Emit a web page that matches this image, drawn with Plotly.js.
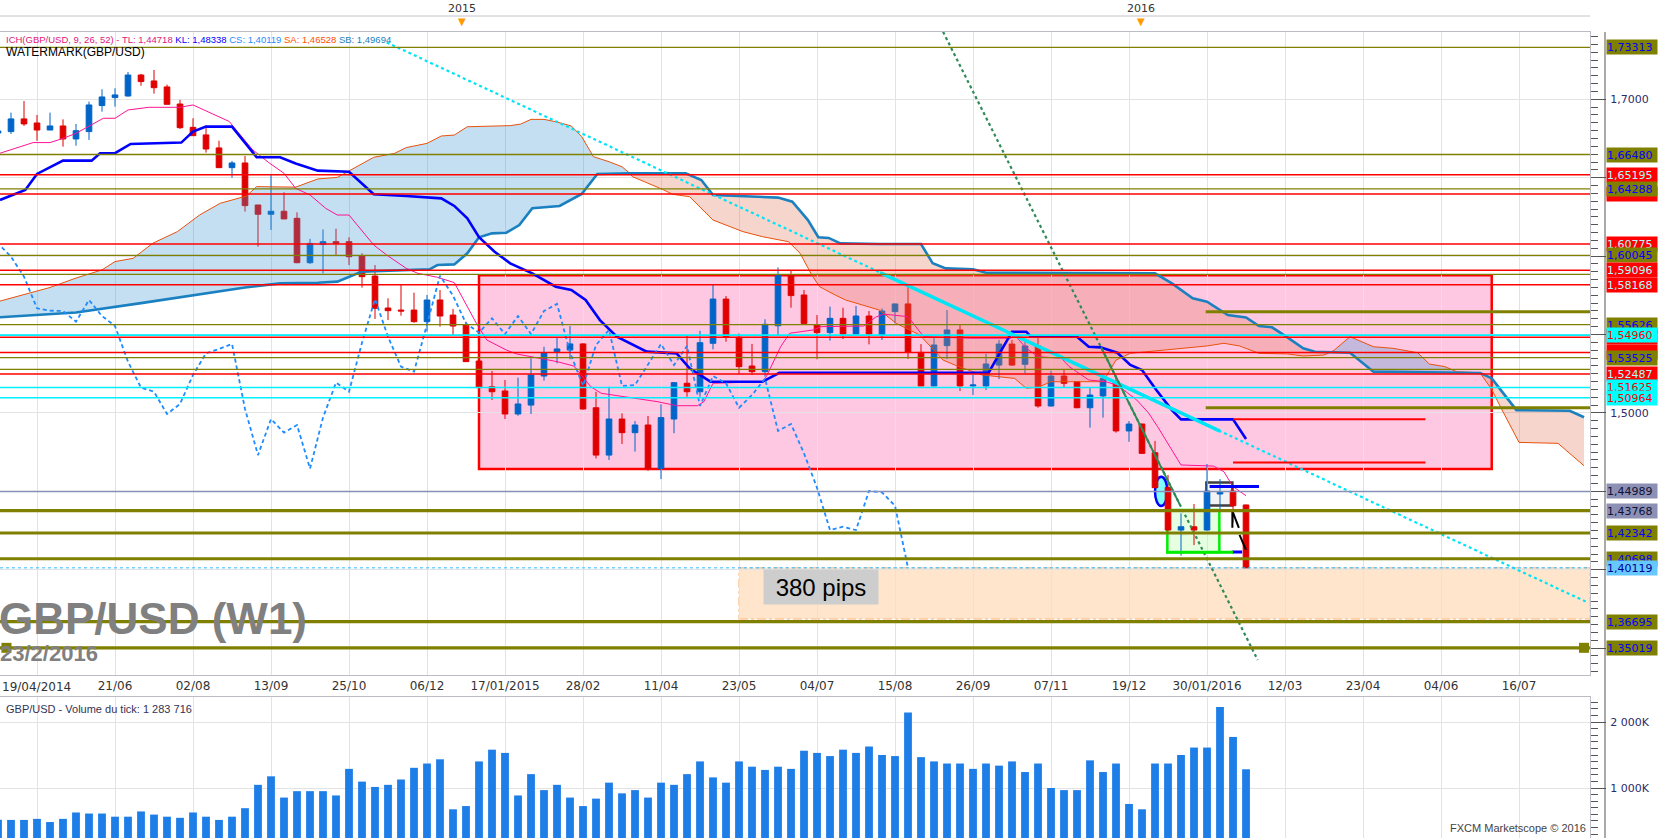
<!DOCTYPE html>
<html><head><meta charset="utf-8">
<script src="https://cdn.plot.ly/plotly-3.0.1.min.js"></script>
<style>html,body{margin:0;padding:0;background:#fff;}#chart{width:1663px;height:838px;}</style>
</head><body><div id="chart"></div>
<script>
// ---------- weekly candles (GBP/USD W1) ----------
const dates = ['2014-04-19','2014-04-26','2014-05-03','2014-05-10','2014-05-17','2014-05-24','2014-05-31','2014-06-07','2014-06-14','2014-06-21','2014-06-28','2014-07-05','2014-07-12','2014-07-19','2014-07-26','2014-08-02','2014-08-09','2014-08-16','2014-08-23','2014-08-30','2014-09-06','2014-09-13','2014-09-20','2014-09-27','2014-10-04','2014-10-11','2014-10-18','2014-10-25','2014-11-01','2014-11-08','2014-11-15','2014-11-22','2014-11-29','2014-12-06','2014-12-13','2014-12-20','2014-12-27','2015-01-03','2015-01-10','2015-01-17','2015-01-24','2015-01-31','2015-02-07','2015-02-14','2015-02-21','2015-02-28','2015-03-07','2015-03-14','2015-03-21','2015-03-28','2015-04-04','2015-04-11','2015-04-18','2015-04-25','2015-05-02','2015-05-09','2015-05-16','2015-05-23','2015-05-30','2015-06-06','2015-06-13','2015-06-20','2015-06-27','2015-07-04','2015-07-11','2015-07-18','2015-07-25','2015-08-01','2015-08-08','2015-08-15','2015-08-22','2015-08-29','2015-09-05','2015-09-12','2015-09-19','2015-09-26','2015-10-03','2015-10-10','2015-10-17','2015-10-24','2015-10-31','2015-11-07','2015-11-14','2015-11-21','2015-11-28','2015-12-05','2015-12-12','2015-12-19','2015-12-26','2016-01-02','2016-01-09','2016-01-16','2016-01-23','2016-01-30','2016-02-06','2016-02-13','2016-02-20'];
const opens = [1.6785,1.6794,1.6875,1.6849,1.6804,1.6830,1.6747,1.6794,1.6960,1.7011,1.7021,1.7155,1.7117,1.7079,1.6970,1.6821,1.6773,1.6690,1.6564,1.6594,1.6326,1.6267,1.6286,1.6241,1.5958,1.6075,1.6092,1.6092,1.6003,1.5873,1.5669,1.5656,1.5656,1.5582,1.5720,1.5624,1.5561,1.5331,1.5167,1.5140,1.4993,1.5050,1.5235,1.5391,1.5401,1.5440,1.5033,1.4731,1.4961,1.4874,1.4923,1.4645,1.4961,1.5189,1.5135,1.5444,1.5726,1.5482,1.5299,1.5263,1.5556,1.5880,1.5752,1.5561,1.5512,1.5603,1.5503,1.5618,1.5493,1.5646,1.5695,1.5386,1.5172,1.5429,1.5529,1.5172,1.5172,1.5305,1.5439,1.5310,1.5427,1.5044,1.5235,1.5199,1.5033,1.5108,1.5199,1.4885,1.4929,1.4746,1.4525,1.4253,1.4274,1.4253,1.4483,1.4502,1.4413];
const highs = [1.6800,1.6915,1.6989,1.6900,1.6915,1.6872,1.6843,1.6985,1.7064,1.7070,1.7174,1.7162,1.7187,1.7094,1.6996,1.6879,1.6832,1.6736,1.6607,1.6639,1.6326,1.6524,1.6407,1.6279,1.6110,1.6170,1.6175,1.6120,1.6018,1.5943,1.5731,1.5820,1.5767,1.5752,1.5784,1.5663,1.5582,1.5335,1.5267,1.5210,1.5225,1.5348,1.5422,1.5480,1.5554,1.5445,1.5135,1.5167,1.4997,1.4948,1.4980,1.5055,1.5195,1.5497,1.5524,1.5816,1.5746,1.5507,1.5440,1.5597,1.5928,1.5907,1.5784,1.5624,1.5678,1.5671,1.5682,1.5650,1.5667,1.5697,1.5816,1.5439,1.5480,1.5656,1.5561,1.5242,1.5376,1.5465,1.5465,1.5465,1.5480,1.5269,1.5274,1.5200,1.5163,1.5222,1.5225,1.4948,1.4931,1.4821,1.4604,1.4360,1.4419,1.4674,1.4578,1.4530,1.4415];
const lows = [1.6770,1.6779,1.6830,1.6736,1.6804,1.6698,1.6704,1.6741,1.6921,1.6953,1.7017,1.7087,1.7036,1.6968,1.6811,1.6768,1.6660,1.6564,1.6500,1.6284,1.6060,1.6167,1.6237,1.5955,1.5950,1.5890,1.6007,1.5943,1.5799,1.5599,1.5592,1.5620,1.5575,1.5518,1.5550,1.5493,1.5327,1.5155,1.5082,1.4961,1.4982,1.4993,1.5206,1.5316,1.5342,1.5020,1.4710,1.4700,1.4802,1.4753,1.4630,1.4578,1.4870,1.5103,1.5103,1.5405,1.5454,1.5246,1.5242,1.5231,1.5493,1.5671,1.5571,1.5342,1.5461,1.5471,1.5503,1.5437,1.5465,1.5571,1.5344,1.5172,1.5170,1.5344,1.5140,1.5114,1.5146,1.5216,1.5300,1.5252,1.5033,1.5040,1.5161,1.5030,1.4906,1.4970,1.4874,1.4816,1.4740,1.4520,1.4250,1.4089,1.4157,1.4250,1.4387,1.4300,1.4012];
const closes = [1.6798,1.6875,1.6843,1.6804,1.6830,1.6747,1.6800,1.6964,1.7015,1.7028,1.7155,1.7113,1.7074,1.6968,1.6819,1.6768,1.6683,1.6564,1.6594,1.6322,1.6267,1.6286,1.6237,1.5958,1.6081,1.6092,1.6081,1.5996,1.5869,1.5667,1.5652,1.5650,1.5582,1.5720,1.5618,1.5554,1.5327,1.5161,1.5135,1.4993,1.5057,1.5242,1.5380,1.5408,1.5440,1.5025,1.4731,1.4961,1.4874,1.4923,1.4645,1.4970,1.5193,1.5135,1.5448,1.5726,1.5486,1.5295,1.5263,1.5565,1.5875,1.5748,1.5571,1.5512,1.5603,1.5503,1.5618,1.5503,1.5650,1.5695,1.5386,1.5172,1.5433,1.5529,1.5172,1.5178,1.5312,1.5439,1.5305,1.5427,1.5044,1.5235,1.5189,1.5033,1.5114,1.5220,1.4885,1.4929,1.4742,1.4523,1.4253,1.4274,1.4253,1.4502,1.4493,1.4408,1.4012];
// tick volume, thousands
const volumesK = [520,516,516,532,484,532,629,613,613,565,565,645,597,565,548,629,565,516,565,694,1048,1177,855,952,952,952,887,1290,1097,1016,1048,1129,1306,1371,1435,677,726,1403,1581,1532,887,1210,968,1048,855,726,839,1081,919,968,855,1081,1048,1210,1403,1161,1081,1403,1323,1274,1323,1290,1565,1532,1484,1581,1532,1629,1500,1484,2145,1468,1403,1371,1371,1290,1371,1339,1403,1242,1371,1000,968,968,1419,1242,1371,758,677,1371,1371,1500,1613,1613,2226,1774,1284];

// ---------- Ichimoku lines (week index, price) ----------
const tenkanW = [-0.85,1.7,3,4,5,7.1,8,9,10.6,13,14,15,16.8,17.1,18.6,19.9,21,21.9,23,24.2,25.1,26,27.9,28.9,30.4,31.3,32.8,34.1,34.8,35.8,36.6,38.1,38.9,42,43.3,44.6,45.4,48.2,49.7,51.2,52.8,53.3,54,57.8,58.1,59.2,59.9,61.7,62.3,65.6,66.5,67.1,69,70.2,73.8,76.9,77.2,78.1,79,80.8,81.4,82.9,84.2,85.1,86.6,87.5,88.2,90,92.5,93.3,94,95];
const tenkanV = [1.6656,1.6724,1.6724,1.6751,1.6783,1.6879,1.6879,1.6932,1.6949,1.6949,1.6964,1.6926,1.6858,1.6826,1.6677,1.6592,1.6528,1.6432,1.6390,1.6305,1.6262,1.6262,1.6071,1.6007,1.5922,1.5890,1.5865,1.5831,1.5720,1.5571,1.5465,1.5401,1.5376,1.5327,1.5299,1.5167,1.5125,1.5093,1.5072,1.5046,1.5046,1.5072,1.5189,1.5199,1.5231,1.5422,1.5508,1.5529,1.5550,1.5554,1.5610,1.5630,1.5614,1.5486,1.5476,1.5476,1.5497,1.5412,1.5359,1.5348,1.5295,1.5210,1.5199,1.5178,1.5082,1.5000,1.4912,1.4668,1.4661,1.4625,1.4530,1.4472];
const kijunW = [-0.85,1.1,2,4,6.2,6.85,8,9.2,13.1,14,15,17,18.9,20.7,21.9,23.6,26,27.9,30.4,33.1,34.1,35.1,36,37.2,38.4,40.1,41.9,43.1,44.2,45.3,46.6,48.9,51.2,52.2,53.8,57.8,59.1,75.2,77,78.1,78.4,82,82.9,83.8,85.1,86.1,87,88.1,89.3,90,94,95];
const kijunV = [1.6358,1.6422,1.6524,1.6609,1.6609,1.6656,1.6656,1.6715,1.6724,1.6794,1.6826,1.6826,1.6630,1.6630,1.6591,1.6545,1.6538,1.6394,1.6383,1.6368,1.6320,1.6241,1.6120,1.6028,1.5954,1.5890,1.5805,1.5784,1.5720,1.5592,1.5486,1.5391,1.5380,1.5284,1.5199,1.5199,1.5256,1.5257,1.5518,1.5518,1.5490,1.5486,1.5422,1.5418,1.5384,1.5306,1.5274,1.5146,1.5018,1.4959,1.4959,1.4834];
const spanAW = [-0.85,3,5,7,8,9.4,10.9,12.8,14.5,16.1,18.1,18.9,21.9,23.6,25.1,27.9,29.5,30.4,32,33.1,34.1,35.1,38.4,39.2,40,41,41.9,43.1,43.9,44.8,46,47,47.6,47.8,50.1,50.9,52.2,54,56.3,57.8,59.8,60.7,61.6,62.2,63.4,64.2,66.8,68.1,69.9,71.7,72.9,74.7,77.2,78.1,79,80,84,84.4,85,86.1,90,92,93.3,94.5,96,98.2,99.4,101,101.5,101.8,103,104.8,106.3,108.2,109.1,110.3,111.2,113,113.9,114.5,116,119,121];
const spanAV = [1.5713,1.5800,1.5860,1.5912,1.5965,1.5986,1.6082,1.6156,1.6262,1.6337,1.6383,1.6443,1.6440,1.6492,1.6502,1.6630,1.6655,1.6692,1.6719,1.6766,1.6772,1.6825,1.6832,1.6842,1.6872,1.6872,1.6857,1.6830,1.6762,1.6634,1.6602,1.6570,1.6528,1.6507,1.6426,1.6394,1.6379,1.6230,1.6156,1.6124,1.6092,1.6018,1.5879,1.5805,1.5752,1.5720,1.5656,1.5571,1.5497,1.5337,1.5295,1.5242,1.5220,1.5157,1.5163,1.5199,1.5199,1.5252,1.5337,1.5380,1.5412,1.5427,1.5444,1.5427,1.5380,1.5376,1.5363,1.5369,1.5387,1.5401,1.5486,1.5422,1.5412,1.5384,1.5312,1.5295,1.5263,1.5255,1.5150,1.5050,1.4812,1.4806,1.4663];
const spanBW = [-0.85,5,10,15,18,20.7,23.6,25.1,26.3,27,32.2,32.8,34.1,35.1,36,37,38.1,39.1,40.1,42.2,43.9,45.1,47.6,51.9,53.1,54,59,60.1,61.3,62.1,62.9,63.8,66.8,70,70.9,71.9,74,75,88,89.3,90.9,92,93.6,95,96,97,98.1,99.4,100.3,101.5,103,104.8,112.9,113,113.9,114.8,115.8,119.9,121];
const spanBV = [1.5610,1.5640,1.5700,1.5760,1.5800,1.5826,1.5830,1.5837,1.5879,1.5901,1.5916,1.5943,1.5947,1.6018,1.6120,1.6145,1.6149,1.6198,1.6305,1.6320,1.6396,1.6524,1.6528,1.6528,1.6485,1.6390,1.6373,1.6347,1.6230,1.6120,1.6116,1.6081,1.6077,1.6077,1.5954,1.5922,1.5916,1.5894,1.5890,1.5826,1.5731,1.5709,1.5624,1.5609,1.5554,1.5546,1.5486,1.5412,1.5390,1.5387,1.5384,1.5263,1.5257,1.5255,1.5220,1.5125,1.5018,1.5014,1.4972];
const cloudBreaks = [-0.85,47.6,101.5,113,121];
const cloudBull = [true,false,true,false];
const chikouShift = 26;

// ---------- price scale ticks ----------
const priceTicks = [1.35,1.40,1.45,1.50,1.55,1.60,1.65,1.70];
const priceTickText = ['','','','1,5000','','','','1,7000']; // others sit under the level boxes

// ---------- drawn objects ----------
const hLevels = [1.73313,1.66480,1.65195,1.64288,1.6396,1.60775,1.60045,1.59096,1.5884,1.58168,1.55626,1.54960,1.5482,1.5386,1.53525,1.5278,1.52487,1.51625,1.50964,1.44989,1.43768,1.42342,1.40698,1.36695,1.35019];
const hKinds  = ['o','o','r','o','r','r','o','r','o','r','o','c','r','r','o','o','r','c','c','g','O','O','O','O','O'];
const shortOliveLevels = [1.5645,1.5033];
const shortOliveFrom = 91.9;
const redSegLevels = [1.4959,1.4683];
const redSegFrom = 94, redSegTo = 108.8;
const csLevel = 1.40119;
// price labels on the right scale (drawing order; hidden ones are mostly covered)
const labelLevels = [1.73313,1.66480,1.65195,1.6396,1.64288,1.60775,1.60045,1.59096,1.58168,1.55626,1.5482,1.5386,1.54960,1.53525,1.52487,1.51625,1.50964,1.44989,1.43768,1.42342,1.40698,1.40119,1.36695,1.35019];
const labelKinds  = ['o','o','r','r','o','r','o','r','r','o','r','r','c','o','r','c','c','g','g','o','o','b','o','o'];
const labelHidden = [false,false,false,true,false,false,false,false,false,false,true,true,false,false,false,false,false,false,false,false,false,false,false,false];
const boxZone = {w0:36,w1:113.9,p0:1.4643,p1:1.5878};
const pipsZone = {w0:56,p0:1.3686,p1:1.40119};
const greenBox = {w0:88.95,w1:92.95,p0:1.4111,p1:1.4381,ext:94};
const whiteBox = {w0:91.95,w1:93.95,p0:1.4410,p1:1.4557};
const ellipse = {w0:88.0,w1:88.95,p0:1.4406,p1:1.4593};
const cyanTrendW = [28.9,121.2], cyanTrendV = [1.7363,1.3794];
const cyanSolidW = [66.85,93], cyanSolidV = [1.5895,1.4884];
const greenTrendW = [71.7,95.9], greenTrendV = [1.7430,1.3424];
const greenSolidW = [83.85,89.9], greenSolidV = [1.5419,1.4417];
const blueMarkW = [92.2,96.0,null,93.9,94.7], blueMarkV = [1.4530,1.4530,null,1.4113,1.4113];
const blackMarkW = [93.95,93.95,94.45,null,94.5,95.0], blackMarkV = [1.4267,1.4375,1.4267,null,1.4222,1.4126];
const handleW = [-0.35,121.0], handleV = [1.35019,1.35019];
const pipsLabel = {w:62.3,p:1.3890,text:'380 pips'};
const yearWeeks = [34.7,86.9], yearLabels = ['2015','2016'];
const gridWeeks = [2,8,14,20,26,32,38,44,50,56,62,68,74,80,86,92,98,104,110,116];
const tickLabels = ['','21/06','02/08','13/09','25/10','06/12','17/01/2015','28/02','11/04','23/05','04/07','15/08','26/09','07/11','19/12','30/01/2016','12/03','23/04','04/06','16/07'];
const firstDateLabel = '19/04/2014';

// ---------- build ----------
const weekIdx = dates.map((d,k)=>k-1);
const OLIVE='#808000', RED='#ff0000', CYAN='#00f0ff';
const kindColor = {o:OLIVE,O:OLIVE,r:RED,c:CYAN,g:'#8890b8'};
const kindWidth = {o:1.3,O:3.2,r:1.5,c:1.6,g:1.3};
const lblBg = {o:OLIVE,r:'#ff0000',c:'#00ffff',g:'#8c90b4',b:'#66c8ff'};
const lblFc = {o:'#0000ff',r:'#aaffff',c:'#ff0000',g:'#101038',b:'#000090'};
const skip = {hoverinfo:'skip',showlegend:false};

function seg(W,V,a,b){const x=[],y=[];W.forEach((w,k)=>{if(w>=a-1e-9&&w<=b+1e-9){x.push(w);y.push(V[k]);}});return {x,y};}

const traces = [];
traces.push(Object.assign({type:'candlestick',x:weekIdx,open:opens,high:highs,low:lows,close:closes,
  increasing:{line:{color:'#0064c8',width:1},fillcolor:'#0064c8'},
  decreasing:{line:{color:'#e00000',width:1},fillcolor:'#e00000'},
  whiskerwidth:0,xaxis:'x',yaxis:'y'},skip));
for(let r=0;r<cloudBull.length;r++){
  const a=cloudBreaks[r], b=cloudBreaks[r+1];
  const sb=seg(spanBW,spanBV,a,b), sa=seg(spanAW,spanAV,a,b);
  traces.push(Object.assign({type:'scatter',mode:'lines',x:sb.x,y:sb.y,line:{width:0,color:'rgba(0,0,0,0)'}},skip));
  traces.push(Object.assign({type:'scatter',mode:'lines',x:sa.x,y:sa.y,line:{width:0,color:'rgba(0,0,0,0)'},fill:'tonexty',
    fillcolor: cloudBull[r] ? 'rgba(60,150,210,0.30)' : 'rgba(225,120,85,0.30)'},skip));
}
traces.push(Object.assign({type:'scatter',mode:'lines',x:spanAW,y:spanAV,line:{color:'#e8520c',width:1}},skip));
traces.push(Object.assign({type:'scatter',mode:'lines',x:spanBW,y:spanBV,line:{color:'#1a80c0',width:2.6}},skip));
traces.push(Object.assign({type:'scatter',mode:'lines',x:tenkanW,y:tenkanV,line:{color:'#ff1493',width:1}},skip));
traces.push(Object.assign({type:'scatter',mode:'lines',x:kijunW,y:kijunV,line:{color:'#0000ff',width:2.6}},skip));
traces.push(Object.assign({type:'scatter',mode:'lines',x:weekIdx.map(w=>w-chikouShift),y:closes,line:{color:'#1e8cff',width:1.8,dash:'4px,3px'}},skip));
traces.push(Object.assign({type:'scatter',mode:'lines',x:cyanTrendW,y:cyanTrendV,line:{color:'#00e5f5',width:2.2,dash:'dot'}},skip));
traces.push(Object.assign({type:'scatter',mode:'lines',x:cyanSolidW,y:cyanSolidV,line:{color:'#00e5f5',width:3.5}},skip));
traces.push(Object.assign({type:'scatter',mode:'lines',x:greenTrendW,y:greenTrendV,line:{color:'#2e8b57',width:2.2,dash:'dot'}},skip));
traces.push(Object.assign({type:'scatter',mode:'lines',x:greenSolidW,y:greenSolidV,line:{color:'#2e8b57',width:2}},skip));
traces.push(Object.assign({type:'scatter',mode:'lines',x:blueMarkW,y:blueMarkV,line:{color:'#0000ff',width:3},connectgaps:false},skip));
traces.push(Object.assign({type:'scatter',mode:'lines',x:blackMarkW,y:blackMarkV,line:{color:'#000000',width:2},connectgaps:false},skip));
traces.push(Object.assign({type:'scatter',mode:'markers',x:handleW,y:handleV,marker:{symbol:'square',size:10,color:OLIVE}},skip));
traces.push(Object.assign({type:'bar',x:weekIdx,y:volumesK,width:0.6,marker:{color:'#1e7ee8',line:{width:0}},xaxis:'x2',yaxis:'y2'},skip));

// shapes
const shapes = [];
shapes.push({type:'rect',xref:'x',yref:'y',x0:boxZone.w0,x1:boxZone.w1,y0:boxZone.p0,y1:boxZone.p1,fillcolor:'#ffc8e2',line:{color:'#ff0000',width:2.5},layer:'below'});
shapes.push({type:'rect',xref:'x',yref:'y',x0:pipsZone.w0,x1:121.46,y0:pipsZone.p0,y1:pipsZone.p1,fillcolor:'#ffe5cc',line:{color:'#ffc89a',width:1.5,dash:'dashdot'},layer:'below'});
shapes.push({type:'rect',xref:'x',yref:'y',x0:greenBox.w0,x1:greenBox.w1,y0:greenBox.p0,y1:greenBox.p1,fillcolor:'#e6ffe0',line:{color:'#00ee00',width:2.5},layer:'below'});
shapes.push({type:'rect',xref:'x',yref:'y',x0:whiteBox.w0,x1:whiteBox.w1,y0:whiteBox.p0,y1:whiteBox.p1,fillcolor:'#f3f3f3',line:{color:'#404040',width:2.5},layer:'below'});
shapes.push({type:'circle',xref:'x',yref:'y',x0:ellipse.w0,x1:ellipse.w1,y0:ellipse.p0,y1:ellipse.p1,fillcolor:'#80ffff',line:{color:'#0000ff',width:2.5},layer:'below'});
hLevels.forEach((p,k)=>{
  const kd=hKinds[k];
  shapes.push({type:'line',xref:'paper',yref:'y',x0:0,x1:1,y0:p,y1:p,line:{color:kindColor[kd],width:kindWidth[kd]},layer:'above'});
});
shortOliveLevels.forEach(p=>shapes.push({type:'line',xref:'x',yref:'y',x0:shortOliveFrom,x1:121.46,y0:p,y1:p,line:{color:OLIVE,width:3},layer:'above'}));
redSegLevels.forEach(p=>shapes.push({type:'line',xref:'x',yref:'y',x0:redSegFrom,x1:redSegTo,y0:p,y1:p,line:{color:RED,width:2},layer:'above'}));
shapes.push({type:'line',xref:'paper',yref:'y',x0:0,x1:1,y0:csLevel,y1:csLevel,line:{color:'#33bbff',width:1,dash:'3px,3px'},layer:'above'});
shapes.push({type:'line',xref:'x',yref:'y',x0:greenBox.w0-0.1,x1:greenBox.ext,y0:greenBox.p0,y1:greenBox.p0,line:{color:'#00ee00',width:3},layer:'above'});
// frame extras
shapes.push({type:'line',xref:'paper',yref:'paper',x0:1605/1590,x1:1605/1590,y0:0,y1:1,line:{color:'#555',width:1}});
shapes.push({type:'line',xref:'paper',yref:'paper',x0:0,x1:1,y0:1+16/806,y1:1+16/806,line:{color:'#c4c4cc',width:1}});

// annotations
const ann = [];
labelLevels.forEach((p,k)=>{
  const kd=labelKinds[k];
  ann.push({xref:'paper',yref:'y',x:1,y:p,xanchor:'left',yanchor:'middle',xshift:16,
    text: labelHidden[k] ? '\u00a0' : p.toFixed(5).replace('.',','),
    showarrow:false,bgcolor:lblBg[kd],font:{family:'DejaVu Sans, Verdana, sans-serif',size:11,color:lblFc[kd]},width:50,height:14,align:'left',borderpad:0});
});
yearWeeks.forEach((w,k)=>{
  ann.push({xref:'x',yref:'paper',x:w,y:1+23.5/806,text:yearLabels[k],showarrow:false,yanchor:'middle',font:{family:'DejaVu Sans, sans-serif',size:11,color:'#333'}});
  ann.push({xref:'x',yref:'paper',x:w,y:1+10/806,text:'▼',showarrow:false,yanchor:'middle',font:{family:'DejaVu Sans, sans-serif',size:10,color:'#ff9a00'}});
});
ann.push({xref:'paper',yref:'paper',x:0,y:(838-687)/806,xanchor:'left',yanchor:'middle',text:firstDateLabel,showarrow:false,font:{family:'DejaVu Sans, sans-serif',size:12,color:'#333'}});
ann.push({xref:'paper',yref:'paper',x:0,y:(838-40)/806,xanchor:'left',yanchor:'middle',xshift:4,showarrow:false,align:'left',
  font:{family:'Liberation Sans, Arial, sans-serif',size:9.5},
  text:'<span style="color:#e0157a">ICH(GBP/USD, 9, 26, 52) - TL: 1,44718</span> <span style="color:#0000ff">KL: 1,48338</span> <span style="color:#1e8cff">CS: 1,40119</span> <span style="color:#ff5000">SA: 1,46528</span> <span style="color:#1a80c0">SB: 1,49694</span>'});
ann.push({xref:'paper',yref:'paper',x:0,y:(838-52)/806,xanchor:'left',yanchor:'middle',xshift:4,showarrow:false,
  font:{family:'Liberation Sans, Arial, sans-serif',size:12,color:'#000'},text:'WATERMARK(GBP/USD)'});
ann.push({xref:'paper',yref:'paper',x:0,y:(838-618)/806,xanchor:'left',yanchor:'middle',xshift:-3,showarrow:false,
  font:{family:'Liberation Sans, Arial, sans-serif',size:44,color:'#808080'},text:'<b>GBP/USD (W1)</b>'});
ann.push({xref:'paper',yref:'paper',x:0,y:(838-653)/806,xanchor:'left',yanchor:'middle',xshift:-2,showarrow:false,
  font:{family:'Liberation Sans, Arial, sans-serif',size:22,color:'#808080'},text:'<b>23/2/2016</b>'});
ann.push({xref:'x',yref:'y',x:pipsLabel.w,y:pipsLabel.p,text:pipsLabel.text,showarrow:false,bgcolor:'#cdcdcd',width:112,height:32,
  font:{family:'Liberation Sans, Arial, sans-serif',size:24,color:'#000'}});
ann.push({xref:'paper',yref:'paper',x:0,y:(838-709)/806,xanchor:'left',yanchor:'middle',xshift:4,showarrow:false,
  font:{family:'Liberation Sans, Arial, sans-serif',size:11,color:'#333355'},text:'GBP/USD - Volume du tick: 1 283 716'});
ann.push({xref:'paper',yref:'paper',x:1,y:(838-828)/806,xanchor:'right',yanchor:'middle',xshift:-2,showarrow:false,
  font:{family:'Liberation Sans, Arial, sans-serif',size:11,color:'#444'},text:'FXCM Marketscope © 2016'});

const axBase = {zeroline:false,showline:true,linecolor:'#bcbcc6',mirror:true,gridcolor:'#e3e3e3',fixedrange:true};
const layout = {
  width:1663,height:838,margin:{l:0,r:73,t:32,b:0,pad:0},
  paper_bgcolor:'#ffffff',plot_bgcolor:'#ffffff',showlegend:false,separators:', ',
  font:{family:'DejaVu Sans, Verdana, sans-serif',size:11,color:'#333'},
  boxgap:0.38,
  xaxis:Object.assign({},axBase,{domain:[0,1],anchor:'y',range:[-0.846,121.46],tickmode:'array',tickvals:gridWeeks,ticktext:tickLabels,
    showgrid:true,ticks:'',tickfont:{size:12,color:'#333'},rangeslider:{visible:false}}),
  yaxis:Object.assign({},axBase,{domain:[0.2022,1],anchor:'x',side:'right',range:[1.33284,1.74292],tickmode:'array',tickvals:priceTicks,ticktext:priceTickText,
    showgrid:true,ticks:'outside',ticklen:15,tickcolor:'#555',tickfont:{size:11,color:'#2b2b6b'},ticklabelstandoff:2,
    minor:{dtick:0.005,tick0:1.35,ticks:'outside',ticklen:7,tickcolor:'#555',showgrid:false}}),
  xaxis2:Object.assign({},axBase,{domain:[0,1],anchor:'y2',matches:'x',range:[-0.846,121.46],tickmode:'array',tickvals:gridWeeks,showticklabels:false,showgrid:true,ticks:''}),
  yaxis2:Object.assign({},axBase,{domain:[0,0.1749],anchor:'x2',side:'right',range:[242,2379],tickmode:'array',tickvals:[1000,2000],ticktext:['1 000K','2 000K'],
    showgrid:true,ticks:'outside',ticklen:15,tickcolor:'#555',tickfont:{size:11,color:'#2b2b6b'},ticklabelstandoff:2,
    minor:{dtick:100,ticks:'outside',ticklen:7,tickcolor:'#555',showgrid:false}}),
  shapes:shapes,annotations:ann
};
Plotly.newPlot('chart',traces,layout,{staticPlot:true,displayModeBar:false});
</script></body></html>
